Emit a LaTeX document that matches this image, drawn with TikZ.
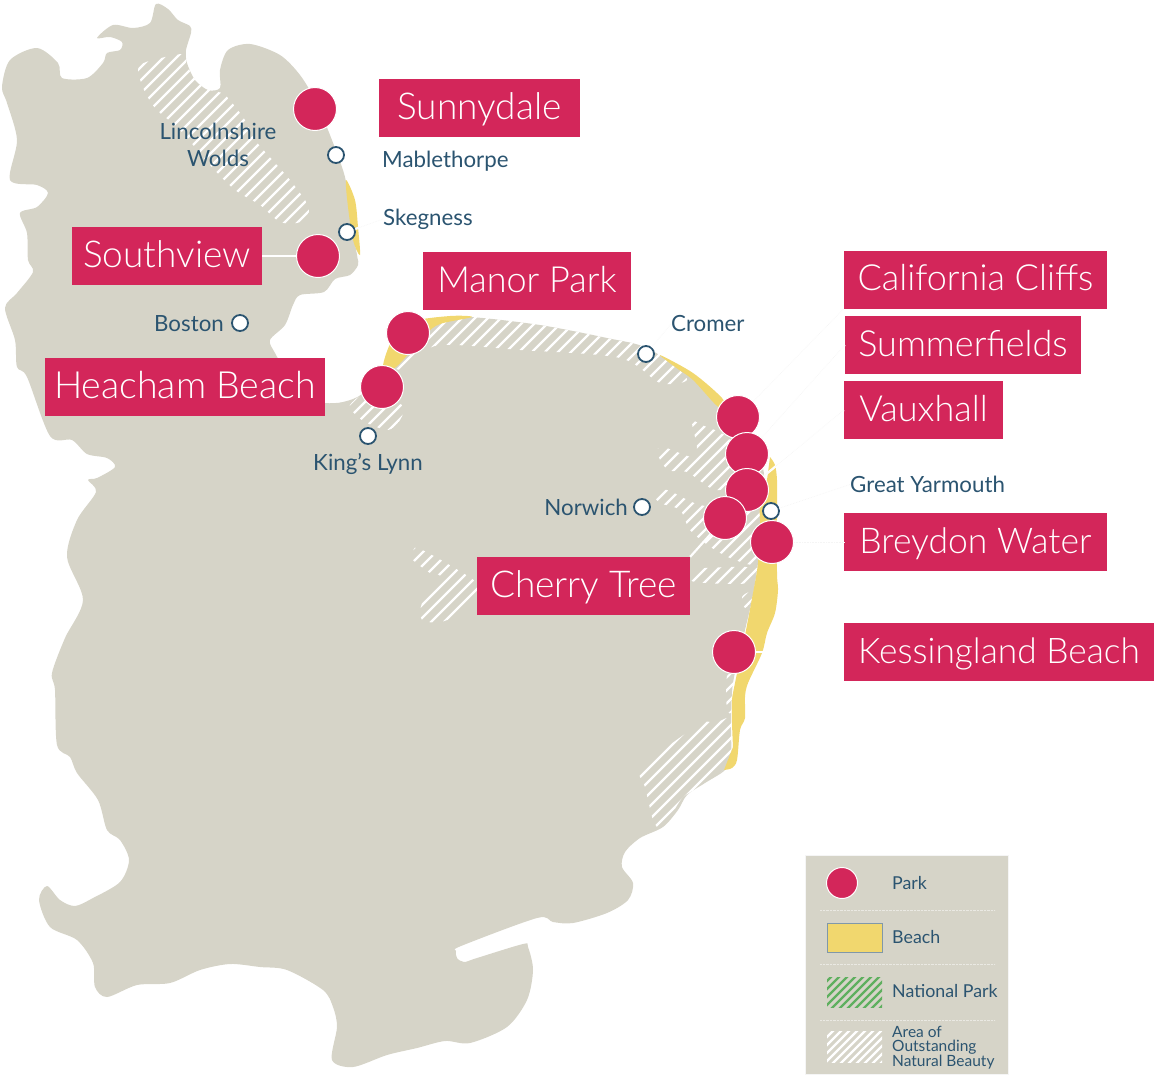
\documentclass[tikz,border=0pt]{standalone}
\usepackage{fontspec}
\setmainfont{Lato}
\newfontfamily\thinfont{Lato Light}
\definecolor{land}{RGB}{214,212,200}
\definecolor{sand}{RGB}{241,215,110}
\definecolor{crimson}{RGB}{211,38,90}
\definecolor{ink}{RGB}{43,84,112}
\definecolor{moss}{RGB}{95,175,95}
\tikzset{
  blob/.style={smooth cycle,tension=.5},
  parkdot/.style={circle,fill=crimson,draw=white,line width=1pt,minimum size=43pt,inner sep=0pt},
  towndot/.style={circle,fill=white,draw=ink,line width=1.8pt,minimum size=16pt,inner sep=0pt},
  namebox/.style={fill=crimson,text=white,minimum height=58pt,inner sep=0pt,text height=27pt,text depth=5pt,font=\thinfont\fontsize{#1}{39}\selectfont},
  namebox/.default=37,
  townlabel/.style={text=ink,inner sep=0pt,font=\fontsize{22.3}{27}\selectfont},
  legendlabel/.style={text=ink,inner sep=0pt,anchor=west,font=\fontsize{17.8}{20}\selectfont},
  leader/.style={white,line width=2.2pt},
  faintleader/.style={leader,postaction={draw=black!4,line width=.6pt,densely dotted}}
}
\newcommand\hatcharea[3]{
  \begin{scope}
    \clip #3;
    \foreach \c in {0,#2,...,2000} \draw[#1,line width=2.4pt] (\c,0)--(0,\c);
  \end{scope}
}
\begin{document}
\begin{tikzpicture}[x=1pt,y=-1pt]
  \useasboundingbox (0,0) rectangle (1161,1090);
  % land
  \fill[land] plot[blob] coordinates {
    (156,4)(168,9)(178,20)(190,26)(191,33)(186,50)(187,63)(195,80)(208,90)(220,88)
    (220,70)(228,50)(250,44)(280,55)(300,75)(315,100)(330,135)(345,177)(350,215)(357,255)
    (358,265)(350,275)(335,279)(324,292)(300,295)(293,305)(285,325)(270,340)(275,353)(290,378)
    (310,398)(325,403)(343,402)(362,394)(380,370)(395,350)(420,328)(440,320)(470,317)(540,325)
    (607,338)(647,348)(693,378)(722,403)(760,460)(765,500)(758,563)(752,600)(745,630)(733,683)
    (731,723)(731,755)(725,770)(705,783)(687,795)(678,810)(663,827)(640,838)(625,852)(622,867)
    (633,883)(628,900)(607,913)(573,923)(553,922)(537,918)(461,946)(456,951)(457,958)(464,962)(477,958)
    (523,944)(528,947)(533,970)(527,1000)(507,1027)(470,1043)(445,1041)(417,1048)(387,1055)(353,1067)
    (332,1060)(337,1027)(333,1007)(323,990)(287,970)(260,967)(230,964)(200,970)(170,983)(137,985)
    (107,997)(95,987)(93,963)(77,940)(50,927)(39,900)(47,886)(60,900)(75,906)(93,898)
    (120,882)(129,860)(120,840)(107,830)(98,800)(77,773)(70,757)(57,745)(55,690)(52,673)
    (65,638)(83,600)(67,557)(77,520)(96,492)(88,480)(97,478)(115,467)(107,458)(87,454)
    (72,440)(50,436)(27,377)(17,367)(15,340)(5,308)(17,293)(33,272)(28,260)(27,233)
    (20,213)(37,207)(48,193)(37,185)(10,180)(17,140)(7,103)(2,87)(10,60)(37,48)
    (58,63)(62,78)(87,78)(103,63)(107,53)(120,50)(122,42)(110,37)(97,38)(113,25)
    (133,28)(150,23)};
  % outstanding natural beauty
  \hatcharea{white}{13}{plot[blob] coordinates {(140,65)(175,55)(186,55)(187,65)(197,82)(210,90)(225,95)(245,120)(255,140)(290,180)(309,208)(300,222)(280,222)(260,205)(235,190)(210,165)(180,130)(155,108)(142,85)}}
  \hatcharea{white}{13}{plot[blob] coordinates {(430,325)(470,317)(540,325)(607,338)(650,348)(670,362)(687,380)(660,383)(620,358)(520,350)(440,345)(415,360)(400,370)(390,360)(410,330)}}
  \hatcharea{white}{13}{plot[blob] coordinates {(350,405)(365,395)(402,405)(400,420)(388,430)(365,422)(353,412)}}
  \hatcharea{white}{13}{plot[blob] coordinates {(657,453)(663,447)(692,457)(697,447)(692,422)(702,425)(730,440)(735,480)(715,490)(687,472)(668,470)}}
  \hatcharea{white}{13}{plot[blob] coordinates {(653,493)(667,490)(700,505)(745,510)(765,515)(757,562)(735,560)(712,548)(690,530)(680,510)(660,503)}}
  \hatcharea{white}{13}{plot[blob] coordinates {(690,573)(705,568)(757,568)(750,583)(695,582)}}
  \hatcharea{white}{13}{plot[blob] coordinates {(742,597)(750,592)(752,600)(745,608)}}
  \hatcharea{white}{13}{plot[blob] coordinates {(727,676)(737,678)(733,710)(727,710)}}
  \hatcharea{white}{13}{plot[blob] coordinates {(640,772)(663,750)(702,723)(715,723)(732,718)(732,747)(723,770)(700,787)(683,797)(670,817)(660,828)(653,820)(645,787)}}
  \hatcharea{white}{13}{plot[blob] coordinates {(413,553)(418,548)(453,567)(477,583)(477,595)(457,615)(440,622)(422,620)(422,603)(440,577)(430,573)(413,560)}}
  % beaches
  \fill[sand] plot[blob] coordinates {(346,180)(355,200)(358,227)(360,255)(353,240)(348,207)};
  \fill[sand] plot[blob] coordinates {(383,367)(392,340)(410,322)(450,316)(472,317)(440,324)(425,335)(396,367)};
  \fill[sand] plot[blob] coordinates {(660,355)(693,373)(722,398)(728,412)(716,405)(693,380)(675,367)};
  \fill[sand] plot[smooth,tension=.5] coordinates {(770,457)(775,465)(777,480)(777,507)(777,573)(778,590)(775,613)(767,633)(762,653)(748,683)(745,697)(745,718)(740,730)(737,760)(732,768)(724,770)}
    -- plot[smooth,tension=.5] coordinates {(733,747)(732,723)(732,700)(735,683)(746,630)(753,593)(758,563)(760,523)(760,507)(767,480)} -- cycle;
  % parks
  \foreach \nm/\x/\y in {sunnypark/315/109,southpark/318/256,manorpark/408/333,heachampark/382/387,
    calipark/738/417,summerpark/747/454,vauxpark/747/490,kesspark/734/652}
    \node[parkdot] (\nm) at (\x,\y) {};
  % towns
  \foreach \nm/\x/\y in {mable/336/155,skeg/347/232,boston/240/323,cromer/646/354,lynn/368/436,norwich/642/507,yarmouth/771/511}
    \node[towndot] (\nm) at (\x,\y) {};
  \node[parkdot] (cherrypark) at (725,518) {};
  \node[parkdot] (breydonpark) at (772,542) {};
  % names
  \node[namebox,minimum width=201pt] (sunnydale) at (479.5,108) {Sunnydale};
  \node[namebox,minimum width=190pt] (southview) at (167,256) {Southview};
  \node[namebox=36,minimum width=208pt] (manor) at (527,281) {Manor Park};
  \node[namebox=37.5,minimum width=280pt] (heacham) at (185,387) {Heacham Beach};
  \node[namebox=36,minimum width=263pt] (cali) at (975.5,279.5) {California Cliffs};
  \node[namebox=36,minimum width=236pt] (summer) at (963,345) {Summerfields};
  \node[namebox=36,minimum width=159pt] (vaux) at (923.5,410) {Vauxhall};
  \node[namebox=35.5,minimum width=263pt] (breydon) at (975.5,542) {Breydon Water};
  \node[namebox,minimum width=213pt] (cherry) at (583.5,586) {Cherry Tree};
  \node[namebox=35.3,minimum width=310pt] (kess) at (999,652) {Kessingland Beach};
  % town labels
  \node[townlabel,anchor=west] (mablelabel) at (382,161) {Mablethorpe};
  \node[townlabel,anchor=west] (skeglabel) at (383,219) {Skegness};
  \node[townlabel,anchor=east] (bostonlabel) at (224,324) {Boston};
  \node[townlabel,anchor=west] (cromerlabel) at (671,324) {Cromer};
  \node[townlabel] (lynnlabel) at (368,464) {King's Lynn};
  \node[townlabel,anchor=east] (norwichlabel) at (628,507) {Norwich};
  \node[townlabel,anchor=west] (yarmouthlabel) at (850,484.5) {Great Yarmouth};
  \node[townlabel,align=center] (wolds) at (218,145) {Lincolnshire\\ Wolds};
  % leaders
  \draw[leader] (southview.east)--(southpark);
  \draw[leader] (cherry.north east)--(cherrypark);
  \draw[leader] (kesspark)--(kess.west);
  \draw[faintleader] (calipark)--(cali.south west);
  \draw[faintleader] (summerpark)--(summer.west);
  \draw[faintleader] (vauxpark)--(vaux.west);
  \draw[faintleader] (breydonpark)--(breydon.west);
  \draw[faintleader] (yarmouth)--(yarmouthlabel.west);
  \draw[faintleader] (skeg)--(skeglabel.west);
  \draw[faintleader] (cromer)--(cromerlabel.west);
  % legend
  \node[fill=land,draw=black!4,minimum width=203pt,minimum height=219pt,inner sep=0pt] (legendbox) at (906.5,964.5) {};
  \foreach \y in {910,964,1020} \draw[white,opacity=.5,densely dotted] (820,\y)--(995,\y);
  \node[parkdot,minimum size=31pt] (legendpark) at (842,883) {};
  \node[fill=sand,draw=ink!60,line width=1pt,minimum width=55pt,minimum height=29pt,inner sep=0pt] (legendbeach) at (854.5,937.5) {};
  \hatcharea{moss}{8}{(827,977) rectangle (882,1007)}
  \hatcharea{white}{8}{(827,1031) rectangle (882,1062)}
  \node[legendlabel] (parktext) at (892,883) {Park};
  \node[legendlabel] (beachtext) at (892,937) {Beach};
  \node[legendlabel] (nationaltext) at (892,991) {National Park};
  \node[legendlabel,align=left,font=\fontsize{15.5}{14}\selectfont] (areatext) at (892,1048) {Area of\\ Outstanding\\ Natural Beauty};
\end{tikzpicture}
\end{document}
